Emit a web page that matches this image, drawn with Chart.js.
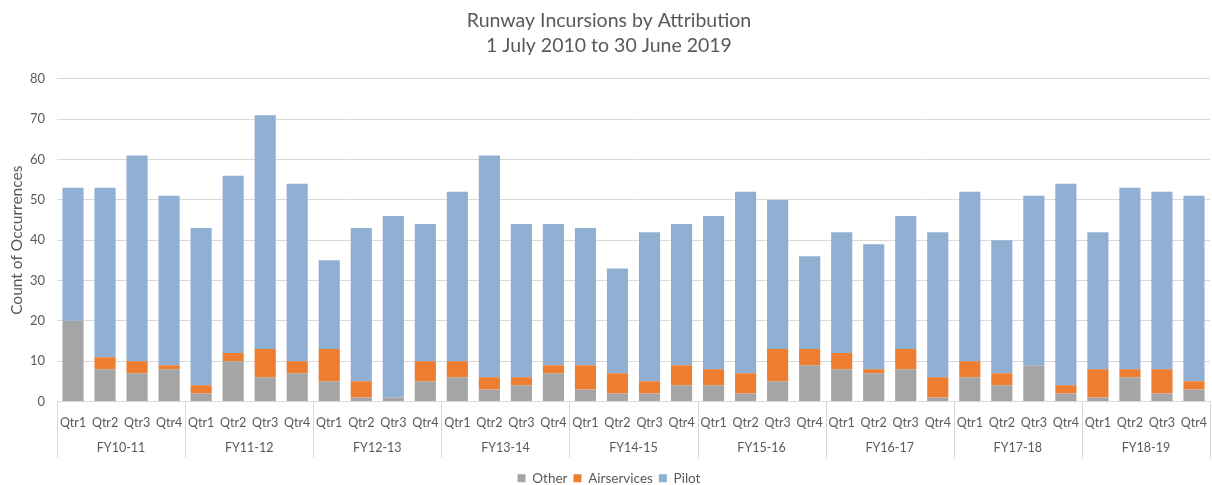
<!DOCTYPE html>
<html>
<head>
<meta charset="utf-8">
<script src="https://cdn.jsdelivr.net/npm/chart.js@4/dist/chart.umd.min.js"></script>
<style>
  html, body { margin: 0; padding: 0; background: #ffffff; }
  #wrap { width: 1212px; height: 485px; position: relative; }
</style>
</head>
<body>
<div id="wrap"><canvas id="chart"></canvas></div>
<script>
// Financial years and quarters
const financialYears = ['FY10-11', 'FY11-12', 'FY12-13', 'FY13-14', 'FY14-15', 'FY15-16', 'FY16-17', 'FY17-18', 'FY18-19'];
const quarterNames = ['Qtr1', 'Qtr2', 'Qtr3', 'Qtr4'];

// Runway incursions per quarter, by attribution
const otherCounts = [
  20, 8, 7, 8,
  2, 10, 6, 7,
  5, 1, 1, 5,
  6, 3, 4, 7,
  3, 2, 2, 4,
  4, 2, 5, 9,
  8, 7, 8, 1,
  6, 4, 9, 2,
  1, 6, 2, 3
];
const airservicesCounts = [
  0, 3, 3, 1,
  2, 2, 7, 3,
  8, 4, 0, 5,
  4, 3, 2, 2,
  6, 5, 3, 5,
  4, 5, 8, 4,
  4, 1, 5, 5,
  4, 3, 0, 2,
  7, 2, 6, 2
];
const pilotCounts = [
  33, 42, 51, 42,
  39, 44, 58, 44,
  22, 38, 45, 34,
  42, 55, 38, 35,
  34, 26, 37, 35,
  38, 45, 37, 23,
  30, 31, 33, 36,
  42, 33, 42, 50,
  34, 45, 44, 46
];
const yTicks = [0, 10, 20, 30, 40, 50, 60, 70, 80];

const quarterLabels = [];
financialYears.forEach(() => quarterNames.forEach(q => quarterLabels.push(q)));

const FONT = 'Lato, "Open Sans", sans-serif';
const TEXT = '#595959';
const LINE = '#d9d9d9';

// Vertical separators between financial-year groups below the axis
const groupSeparators = {
  id: 'groupSeparators',
  afterDraw(chart) {
    const x = chart.scales.x;
    const ctx = chart.ctx;
    const per = quarterNames.length;
    const bottom = chart.chartArea.bottom + 57;
    ctx.save();
    ctx.strokeStyle = LINE;
    ctx.lineWidth = 1;
    for (let g = 0; g <= financialYears.length; g++) {
      let px;
      if (g === 0) px = x.left;
      else if (g === financialYears.length) px = x.right;
      else px = (x.getPixelForValue(g * per - 1) + x.getPixelForValue(g * per)) / 2;
      px = Math.round(px) + 0.5;
      ctx.beginPath();
      ctx.moveTo(px, chart.chartArea.bottom);
      ctx.lineTo(px, bottom);
      ctx.stroke();
    }
    ctx.restore();
  }
};

new Chart(document.getElementById('chart'), {
  type: 'bar',
  data: {
    labels: quarterLabels,
    datasets: [
      { label: 'Other', data: otherCounts, backgroundColor: '#a5a5a5' },
      { label: 'Airservices', data: airservicesCounts, backgroundColor: '#ed7d31' },
      { label: 'Pilot', data: pilotCounts, backgroundColor: '#8fb0d3' }
    ]
  },
  options: {
    responsive: true,
    maintainAspectRatio: false,
    animation: false,
    datasets: { bar: { barPercentage: 0.66, categoryPercentage: 1.0 } },
    layout: { padding: { left: 8, right: 2, top: 4, bottom: -10 } },
    plugins: {
      title: {
        display: true,
        text: ['Runway Incursions by Attribution', '1 July 2010 to 30 June 2019'],
        color: TEXT,
        font: { family: FONT, size: 19.5, weight: 'normal', lineHeight: 1.28 },
        padding: { top: 4, bottom: 21 }
      },
      legend: {
        position: 'bottom',
        labels: {
          color: TEXT,
          font: { family: FONT, size: 13.5 },
          boxWidth: 8,
          boxHeight: 8,
          padding: 6
        }
      },
      tooltip: { enabled: false }
    },
    scales: {
      x: {
        stacked: true,
        grid: { display: false, drawTicks: true, tickLength: 14 },
        border: { display: true, color: LINE },
        ticks: { color: TEXT, font: { family: FONT, size: 12.5 }, padding: 0, maxRotation: 0, autoSkip: false },
        afterFit(scale) { scale.paddingLeft = 0; scale.paddingRight = 0; }
      },
      x2: {
        type: 'category',
        labels: financialYears,
        position: 'bottom',
        offset: true,
        grid: { display: false, drawTicks: true, tickLength: 10 },
        border: { display: false },
        ticks: { color: TEXT, font: { family: FONT, size: 12.5 }, padding: 0, maxRotation: 0 },
        afterFit(scale) { scale.height += 10; scale.paddingLeft = 0; scale.paddingRight = 0; }
      },
      y: {
        stacked: true,
        min: 0,
        max: 80,
        afterBuildTicks(scale) { scale.ticks = yTicks.map(v => ({ value: v })); },
        afterFit(scale) { scale.width = 49; },
        grid: { color: LINE, drawTicks: false },
        border: { display: false },
        ticks: { color: TEXT, font: { family: FONT, size: 13 }, padding: 12 },
        title: {
          display: true,
          text: 'Count of Occurrences',
          color: TEXT,
          font: { family: FONT, size: 15.5 },
          padding: { top: 0, bottom: 3 }
        }
      }
    }
  },
  plugins: [groupSeparators]
});
</script>
</body>
</html>
